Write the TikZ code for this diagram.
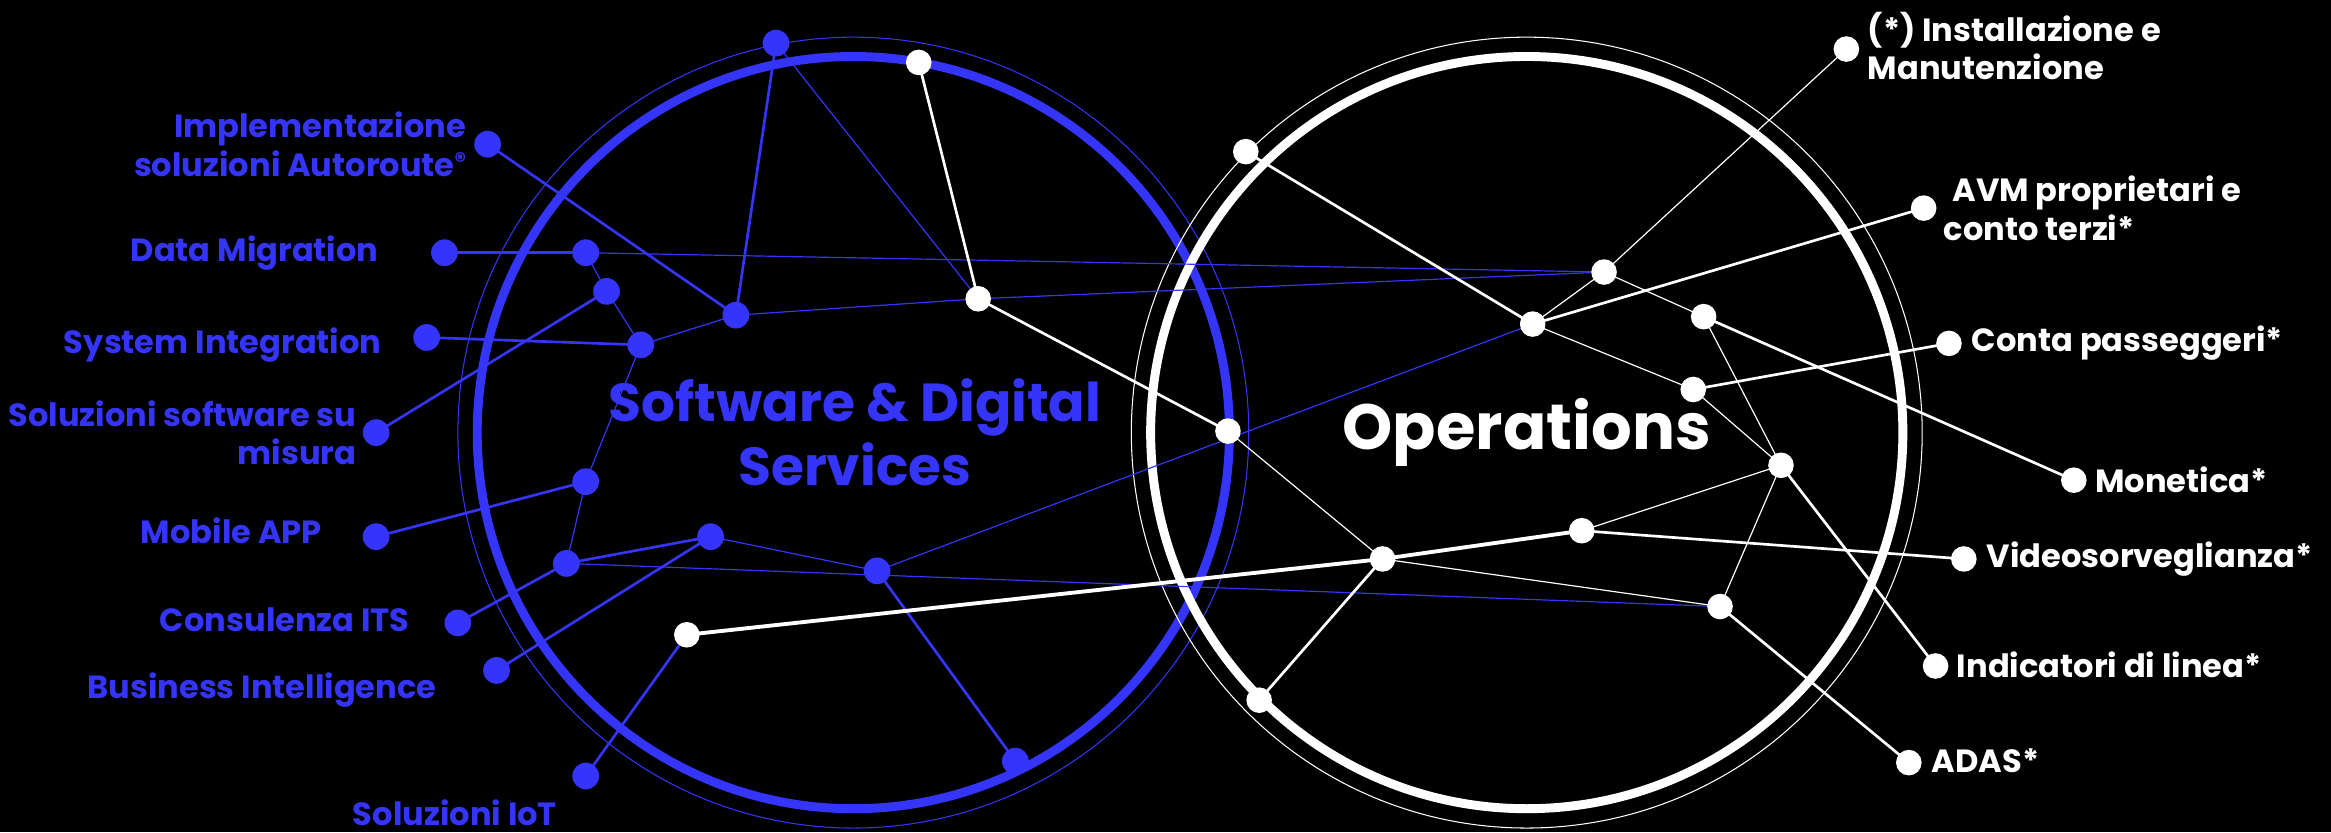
\documentclass[tikz,border=0pt]{standalone}
\usepackage{fontspec}
\setmainfont{Poppins}
\definecolor{sdblue}{RGB}{52,52,250}
\pgfdeclarelayer{bg}
\pgfdeclarelayer{edges}
\pgfsetlayers{bg,edges,main}
\tikzset{
  bdot/.style={circle,fill=sdblue,inner sep=0pt,minimum size=9pt},
  wdot/.style={circle,fill=white,inner sep=0pt,minimum size=8.6pt},
  bthin/.style={draw=sdblue,line width=0.4pt},
  bmed/.style={draw=sdblue,line width=0.9pt},
  wthin/.style={draw=white,line width=0.4pt},
  wmed/.style={draw=white,line width=0.9pt},
  wthick/.style={draw=white,line width=1.3pt},
  llab/.style={text=sdblue,font=\fontsize{10.8}{13}\selectfont\bfseries,align=right,anchor=east,inner sep=0pt},
  rlab/.style={text=white,font=\fontsize{10.8}{13}\selectfont\bfseries,align=left,anchor=west,inner sep=0pt},
  bigtitle/.style={font=\fontsize{18}{21.5}\selectfont\bfseries,align=center,inner sep=0pt}
}
\begin{document}
\begin{tikzpicture}[x=0.5pt,y=-0.5pt]
\begin{pgfonlayer}{bg}
\fill[black] (0,0) rectangle (1568,560);
\useasboundingbox (0,0) rectangle (1568,560);
\draw[sdblue,line width=3pt] (574,291) circle[radius=126.5pt];
\draw[sdblue,line width=0.35pt] (574,291) circle[radius=133pt];
\draw[white,line width=3pt] (1027,291) circle[radius=126.5pt];
\draw[white,line width=0.35pt] (1027,291) circle[radius=133pt];
\end{pgfonlayer}

% blue dots
\node[bdot] (b1) at (522,29) {};
\node[bdot] (impl) at (328,97) {};
\node[bdot] (dm) at (299,170) {};
\node[bdot] (b2) at (394,170) {};
\node[bdot] (b3) at (408,196) {};
\node[bdot] (si) at (287,227) {};
\node[bdot] (b4) at (431,232) {};
\node[bdot] (b5) at (495,212) {};
\node[bdot] (ss) at (253,291) {};
\node[bdot] (b6) at (394,324) {};
\node[bdot] (mob) at (253,361) {};
\node[bdot] (b7) at (478,361) {};
\node[bdot] (b8) at (381,379) {};
\node[bdot] (b9) at (590,384) {};
\node[bdot] (cits) at (308,419) {};
\node[bdot] (bi) at (334,451) {};
\node[bdot] (iot) at (394,522) {};
\node[bdot] (b10) at (683,512) {};

% white dots
\node[wdot] (w1) at (618,42) {};
\node[wdot] (w2) at (658,201) {};
\node[wdot] (w3) at (826,290) {};
\node[wdot] (w4) at (838,102) {};
\node[wdot] (w5) at (1031,218) {};
\node[wdot] (w6) at (1079,183) {};
\node[wdot] (w7) at (1146,213) {};
\node[wdot] (w8) at (1139,262) {};
\node[wdot] (w9) at (1198,313) {};
\node[wdot] (w10) at (1064,357) {};
\node[wdot] (w11) at (930,376) {};
\node[wdot] (w12) at (1157,408) {};
\node[wdot] (w13) at (847,471) {};
\node[wdot] (w14) at (462,427) {};
\node[wdot] (inst) at (1242,33) {};
\node[wdot] (avm) at (1294,140) {};
\node[wdot] (conta) at (1311,231) {};
\node[wdot] (mon) at (1395,323) {};
\node[wdot] (video) at (1321,376) {};
\node[wdot] (ind) at (1302,448) {};
\node[wdot] (adas) at (1284,513) {};

\begin{pgfonlayer}{edges}
% blue edges
\draw[bmed] (impl.center) -- (b5.center);
\draw[bmed] (dm.center) -- (b2.center);
\draw[bthin] (b2.center) -- (w6.center);
\draw[bthin] (b2.center) -- (b3.center);
\draw[bthin] (b3.center) -- (b4.center);
\draw[bmed] (b3.center) -- (ss.center);
\draw[bmed] (si.center) -- (b4.center);
\draw[bthin] (b4.center) -- (b5.center);
\draw[bmed] (b5.center) -- (b1.center);
\draw[bthin] (b5.center) -- (w2.center);
\draw[bthin] (w2.center) -- (w6.center);
\draw[bthin] (b1.center) -- (w2.center);
\draw[bthin] (b4.center) -- (b6.center);
\draw[bmed] (b6.center) -- (mob.center);
\draw[bthin] (b6.center) -- (b8.center);
\draw[bmed] (b8.center) -- (b7.center);
\draw[bmed] (b8.center) -- (cits.center);
\draw[bthin] (b8.center) -- (w12.center);
\draw[bthin] (b7.center) -- (b9.center);
\draw[bmed] (b7.center) -- (bi.center);
\draw[bthin] (b9.center) -- (w5.center);
\draw[bmed] (b9.center) -- (b10.center);
\draw[bmed] (iot.center) -- (w14.center);
% white edges
\draw[wmed] (w1.center) -- (w2.center);
\draw[wmed] (w2.center) -- (w3.center);
\draw[wthin] (w3.center) -- (w11.center);
\draw[wmed] (w11.center) -- (w13.center);
\draw[wthick] (w14.center) -- (w11.center) -- (w10.center);
\draw[wmed] (w10.center) -- (video.center);
\draw[wthin] (w10.center) -- (w9.center);
\draw[wthin] (w11.center) -- (w12.center);
\draw[wmed] (w4.center) -- (w5.center);
\draw[wthin] (w5.center) -- (w6.center);
\draw[wmed] (w5.center) -- (avm.center);
\draw[wthin] (w5.center) -- (w8.center);
\draw[wthin] (w6.center) -- (inst.center);
\draw[wthin] (w6.center) -- (w7.center);
\draw[wmed] (w7.center) -- (mon.center);
\draw[wthin] (w7.center) -- (w9.center);
\draw[wmed] (w8.center) -- (conta.center);
\draw[wthin] (w8.center) -- (w9.center);
\draw[wthin] (w9.center) -- (w12.center);
\draw[wmed] (w9.center) -- (ind.center);
\draw[wmed] (w12.center) -- (adas.center);
\end{pgfonlayer}

% titles
\node[bigtitle,text=sdblue] (tsd) at (575,291) {Software \& Digital\\Services};
\node[bigtitle,text=white,font=\fontsize{21.5}{22}\selectfont\bfseries] (top) at (1027,291) {Operations};

% left labels
\node[llab] (limpl) at (314,97) {Implementazione\\soluzioni Autoroute\raisebox{0.45ex}{\fontsize{7.5}{7.5}\selectfont ®}};
\node[llab] (ldm) at (255,170) {Data Migration};
\node[llab] (lsi) at (257,232) {System Integration};
\node[llab] (lss) at (240,291) {Soluzioni software su\\misura};
\node[llab] (lmob) at (217,357) {Mobile APP};
\node[llab] (lcits) at (276,417) {Consulenza ITS};
\node[llab] (lbi) at (294,464) {Business Intelligence};
\node[llab,anchor=center] (liot) at (306,547) {Soluzioni IoT};

% right labels
\node[rlab] (linst) at (1256,31) {(*) Installazione e\\Manutenzione};
\node[rlab] (lavm) at (1307,140) {\hspace{3pt}AVM proprietari e\\conto terzi*};
\node[rlab] (lconta) at (1326,231) {Conta passeggeri*};
\node[rlab] (lmon) at (1409,323) {Monetica*};
\node[rlab] (lvideo) at (1336,376) {Videosorveglianza*};
\node[rlab] (lind) at (1316,447) {Indicatori di linea*};
\node[rlab] (ladas) at (1299,512) {ADAS*};
\end{tikzpicture}
\end{document}
